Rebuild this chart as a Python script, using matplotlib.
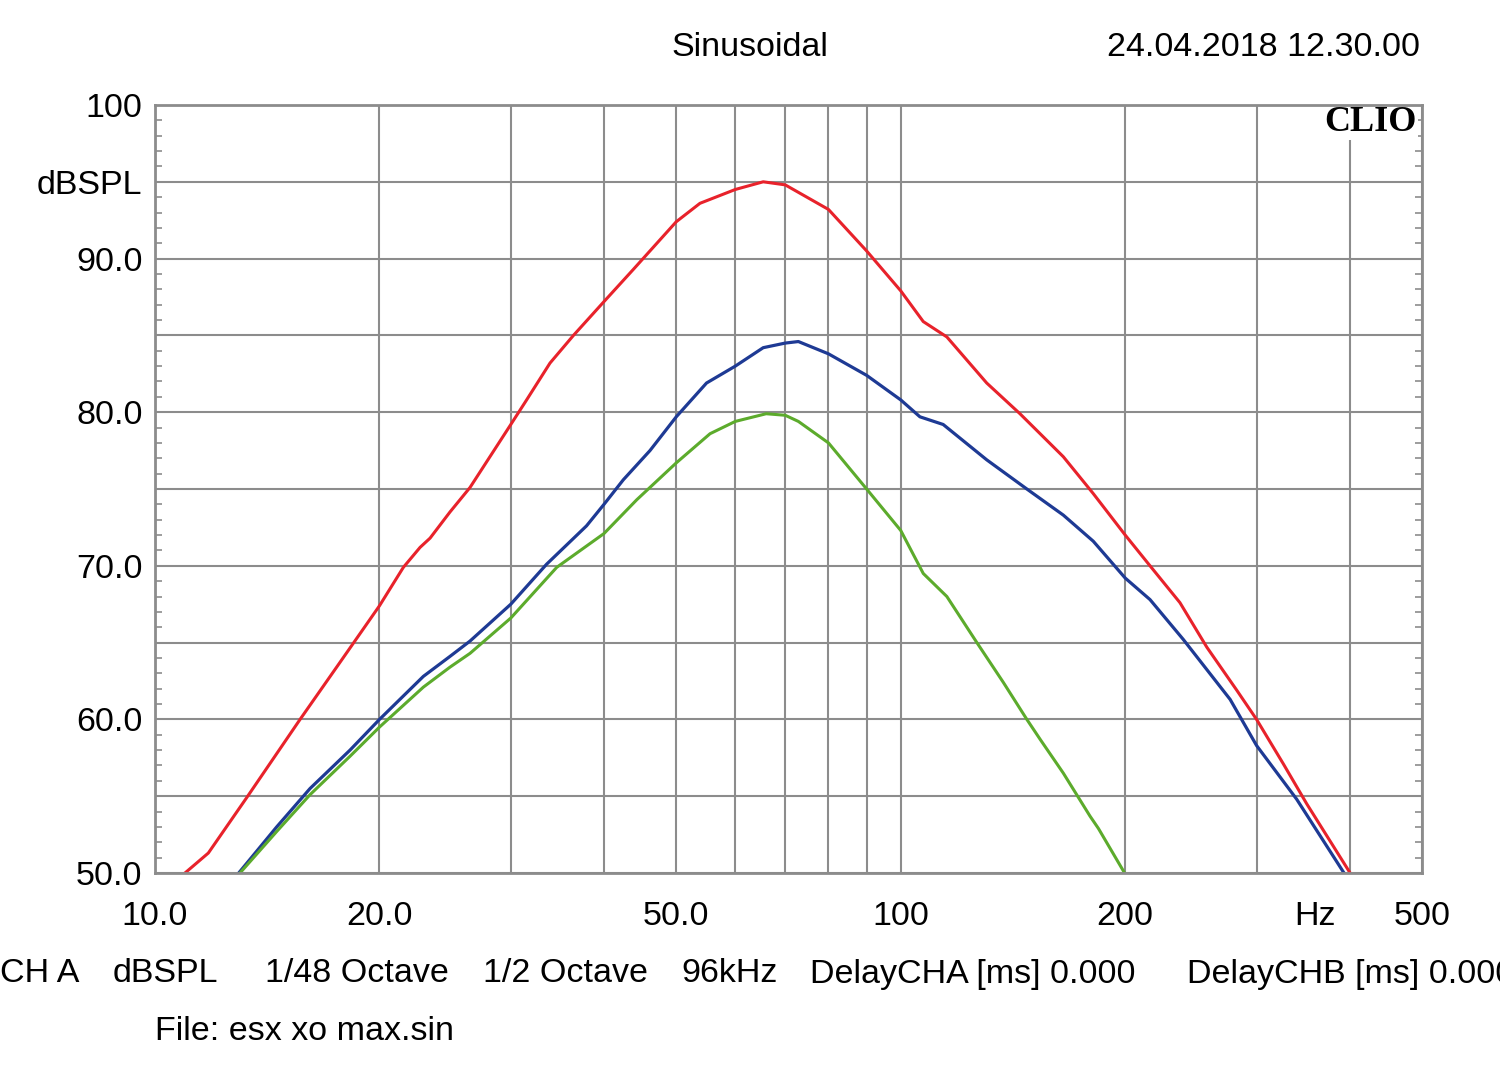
import matplotlib
matplotlib.use('Agg')
import matplotlib.pyplot as plt
from matplotlib.ticker import FixedLocator, NullFormatter

plt.rcParams['font.family'] = 'Liberation Sans'

# measured curves (Hz, dBSPL)
freq_red = [10.97, 11.79, 13.27, 15.65, 17.52, 20.0, 21.53, 22.67, 23.38, 24.86, 26.45, 30.0, 31.5,
            33.86, 36.4, 40.0, 43.8, 50.0, 53.8, 60.0, 65.4, 70.0, 80.0, 90.0, 100.0, 107.2, 115.3,
            130.4, 144.5, 165.2, 181.2, 200.0, 215.9, 236.8, 257.3, 282.2, 300.0, 325.9, 350.3, 400.5]
db_red = [50.0, 51.3, 54.9, 60.0, 63.4, 67.4, 69.9, 71.2, 71.8, 73.5, 75.1, 79.2, 80.8,
          83.2, 85.0, 87.2, 89.3, 92.4, 93.6, 94.5, 95.0, 94.8, 93.2, 90.5, 87.9, 85.9, 84.9,
          81.9, 79.9, 77.1, 74.7, 72.0, 70.0, 67.6, 64.7, 61.9, 60.0, 57.1, 54.5, 50.0]

freq_blue = [12.95, 14.56, 16.14, 18.26, 20.0, 22.9, 24.86, 26.45, 30.0, 33.5, 37.9, 40.0, 42.46,
             46.1, 50.0, 54.9, 60.0, 65.4, 70.0, 72.9, 80.0, 90.0, 100.0, 106.1, 114.0, 130.4,
             147.6, 165.2, 181.2, 200.0, 215.9, 239.3, 276.5, 300.0, 339.6, 393.0]
db_blue = [50.0, 53.0, 55.5, 58.0, 60.0, 62.8, 64.1, 65.1, 67.5, 70.1, 72.6, 74.0, 75.6,
           77.5, 79.7, 81.9, 83.0, 84.2, 84.5, 84.6, 83.8, 82.4, 80.8, 79.7, 79.2, 76.9,
           75.0, 73.3, 71.6, 69.2, 67.8, 65.2, 61.3, 58.3, 54.8, 50.0]

freq_green = [13.0, 14.56, 16.14, 18.26, 20.0, 22.9, 24.86, 26.45, 30.0, 34.57, 40.0, 44.26, 50.0,
              55.5, 60.0, 66.0, 70.0, 72.9, 80.0, 90.0, 100.0, 107.2, 115.3, 126.5, 137.3, 147.6,
              153.8, 165.2, 179.4, 184.1, 199.6]
db_green = [50.0, 52.7, 55.1, 57.6, 59.5, 62.1, 63.4, 64.3, 66.6, 69.9, 72.1, 74.3, 76.7,
            78.6, 79.4, 79.9, 79.8, 79.4, 78.0, 75.0, 72.3, 69.5, 68.0, 65.0, 62.4, 60.0,
            58.7, 56.5, 53.7, 52.9, 50.0]

x_ticks = [10, 20, 50, 100, 200, 500]
x_labels = ['10.0', '20.0', '50.0', '100', '200', '500']
x_grid_minor = [30, 40, 60, 70, 80, 90, 300, 400]
y_ticks = [50, 55, 60, 65, 70, 75, 80, 85, 90, 95, 100]
y_labels = ['50.0', '', '60.0', '', '70.0', '', '80.0', '', '90.0', 'dBSPL', '100']

# bottom info line (the last item runs off the right edge, as in the original)
footer = ['CH A', 'dBSPL', '1/48 Octave', '1/2 Octave', '96kHz',
          'DelayCHA [ms] 0.000', 'DelayCHB [ms] 0.000']
footer_x = [0, 113, 265, 483, 681, 810, 1187]

grid_col = '#8c8c8c'
fs = 24.5

fig = plt.figure(figsize=(15, 10.74), dpi=100)
ax = fig.add_axes([155 / 1500, 1 - 873 / 1074, 1267 / 1500, 768 / 1074])

ax.plot(freq_red, db_red, color='#e8222b', lw=2.2, zorder=3)
ax.plot(freq_blue, db_blue, color='#1e3a94', lw=2.3, zorder=3)
ax.plot(freq_green, db_green, color='#5cab2c', lw=2.2, zorder=3)

ax.set_xscale('log')
ax.set_xlim(10, 500)
ax.set_ylim(50, 100)

ax.xaxis.set_major_locator(FixedLocator(x_ticks))
ax.set_xticklabels(x_labels)
ax.xaxis.set_minor_locator(FixedLocator(x_grid_minor))
ax.xaxis.set_minor_formatter(NullFormatter())
ax.set_yticks(y_ticks)
ax.set_yticklabels(y_labels)
ax.yaxis.set_minor_locator(FixedLocator([v for v in range(51, 100) if v % 5 != 0]))

ax.grid(True, which='major', color=grid_col, lw=1.5)
ax.grid(True, which='minor', axis='x', color=grid_col, lw=1.5)

ax.tick_params(axis='x', which='both', length=0, labelsize=fs, pad=20)
ax.tick_params(axis='y', which='major', length=0, labelsize=fs, pad=9)
ax.tick_params(axis='y', which='minor', direction='in', length=5, width=1.2,
               color=grid_col, left=True, right=True)

for s in ax.spines.values():
    s.set_color(grid_col)
    s.set_linewidth(2.0)
    s.set_zorder(4)

ax.text(0.9155, -0.056, 'Hz', transform=ax.transAxes, ha='center', va='center', fontsize=fs)

# logo sits on a white patch that hides the grid behind it
ax.text(0.996, 0.977, 'CLIO', transform=ax.transAxes, ha='right', va='center',
        fontsize=26, fontweight='bold', family='Liberation Serif', zorder=2.4,
        bbox=dict(facecolor='white', edgecolor='none', pad=0.5))

fig.text(750 / 1500, 1 - 47 / 1074, 'Sinusoidal', ha='center', va='center', fontsize=fs)
fig.text(1420 / 1500, 1 - 47 / 1074, '24.04.2018 12.30.00', ha='right', va='center', fontsize=fs)

for lab, xp in zip(footer, footer_x):
    fig.text(xp / 1500, 1 - 974 / 1074, lab, ha='left', va='center', fontsize=fs)
fig.text(155 / 1500, 1 - 1031 / 1074, 'File: esx xo max.sin', ha='left', va='center', fontsize=fs)

fig.savefig('out.png', dpi=100, facecolor='white')
